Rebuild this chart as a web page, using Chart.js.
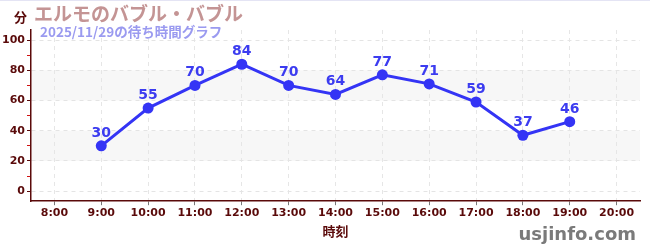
<!DOCTYPE html>
<html>
<head>
<meta charset="utf-8">
<script src="https://cdn.jsdelivr.net/npm/chart.js@4/dist/chart.umd.min.js"></script>
<style>
  html, body { margin: 0; padding: 0; background: #fff; }
  #wrap { width: 650px; height: 250px; position: relative; }
  #wrap:before { content: ''; position: absolute; left: 0; right: 0; top: 0; height: 1px; background: #e4e4f4; }
</style>
</head>
<body>
<div id="wrap"><canvas id="chart" width="650" height="250"></canvas></div>
<script>
const hours = ['8:00', '9:00', '10:00', '11:00', '12:00', '13:00', '14:00', '15:00', '16:00', '17:00', '18:00', '19:00', '20:00']
const waitMinutes = [null, 30, 55, 70, 84, 70, 64, 77, 71, 59, 37, 46, null]
const yTicks = [0, 10, 20, 30, 40, 50, 60, 70, 80, 90, 100]
const bands = [[20, 40], [60, 80]]

const titleText = 'エルモのバブル・バブル'
const subtitleText = '2025/11/29の待ち時間グラフ'
const yUnit = '分'
const xTitle = '時刻'
const siteText = 'usjinfo.com'

const maroon = '#5a0a0a'
const blue = '#3434f5'
const jpFont = '"Noto Sans CJK JP", "Noto Sans", sans-serif'

// light bands behind the plot
const bandPlugin = {
  id: 'bands',
  beforeDraw(chart) {
    const {ctx, chartArea, scales} = chart
    ctx.save()
    ctx.fillStyle = '#f7f7f7'
    bands.forEach(([a, b]) => {
      const y1 = scales.y.getPixelForValue(b)
      const y2 = scales.y.getPixelForValue(a)
      ctx.fillRect(chartArea.left, y1, chartArea.right - chartArea.left, y2 - y1)
    })
    ctx.restore()
  },
}

// titles, value labels and site name
const textPlugin = {
  id: 'texts',
  afterDraw(chart) {
    const ctx = chart.ctx
    ctx.save()
    ctx.textBaseline = 'alphabetic'
    ctx.textAlign = 'left'

    ctx.fillStyle = maroon
    ctx.font = 'bold 13px ' + jpFont
    ctx.fillText(yUnit, 14, 22)

    ctx.fillStyle = '#c49494'
    ctx.font = 'bold 19px ' + jpFont
    ctx.fillText(titleText, 34, 21)

    ctx.fillStyle = '#9a9af0'
    ctx.font = 'bold 13.5px ' + jpFont
    ctx.fillText(subtitleText, 40, 37)

    ctx.fillStyle = '#7a7a7a'
    ctx.font = 'bold 18px "DejaVu Sans", sans-serif'
    ctx.textAlign = 'right'
    ctx.fillText(siteText, 636, 240)

    // value labels above points
    const meta = chart.getDatasetMeta(0)
    ctx.fillStyle = '#3c3cf0'
    ctx.font = 'bold 14px "DejaVu Sans", sans-serif'
    ctx.textAlign = 'center'
    meta.data.forEach((pt, i) => {
      const v = waitMinutes[i]
      if (v === null) return
      ctx.fillText(String(v), pt.x, pt.y - 9)
    })
    ctx.restore()
  },
}

new Chart(document.getElementById('chart'), {
  type: 'line',
  data: {
    labels: hours,
    datasets: [
      {
        data: waitMinutes,
        borderColor: blue,
        backgroundColor: blue,
        borderWidth: 3,
        pointRadius: 5.5,
        pointHoverRadius: 5.5,
        pointBackgroundColor: blue,
        pointBorderWidth: 0,
        tension: 0,
        spanGaps: false,
      },
    ],
  },
  options: {
    responsive: false,
    animation: false,
    layout: {padding: {top: 30, right: 10, bottom: 11, left: 0}},
    plugins: {
      legend: {display: false},
      tooltip: {enabled: false},
    },
    scales: {
      x: {
        offset: true,
        grid: {
          color: '#e6e6e6',
          tickColor: '#777',
          tickLength: 4,
          offset: false,
        },
        border: {color: maroon, width: 1.5, dash: [4, 4]},
        ticks: {
          color: maroon,
          font: {family: '"DejaVu Sans", sans-serif', size: 11, weight: 'bold'},
          padding: 1,
          maxRotation: 0,
          autoSkip: false,
        },
        title: {
          display: true,
          text: xTitle,
          color: maroon,
          font: {family: jpFont, size: 13, weight: 'bold'},
          padding: {top: 3, bottom: 0},
        },
      },
      y: {
        min: -6.67,
        max: 106.67,
        afterBuildTicks(scale) {
          scale.ticks = yTicks.map((v) => ({value: v}))
        },
        afterFit(scale) {
          scale.width = 31
        },
        grid: {
          color: (c) => (c.tick && c.tick.value % 20 === 0 ? '#e4e4e4' : 'transparent'),
          tickColor: (c) => (c.tick && c.tick.value % 20 === 0 ? maroon : '#d01010'),
          tickLength: 4,
        },
        border: {color: maroon, width: 1.5, dash: [4, 4]},
        ticks: {
          color: maroon,
          font: {family: '"DejaVu Sans", sans-serif', size: 11, weight: 'bold'},
          padding: 2,
          callback: (v) => (v % 20 === 0 ? String(v) : ''),
        },
      },
    },
  },
  plugins: [bandPlugin, textPlugin],
})
</script>
</body>
</html>
